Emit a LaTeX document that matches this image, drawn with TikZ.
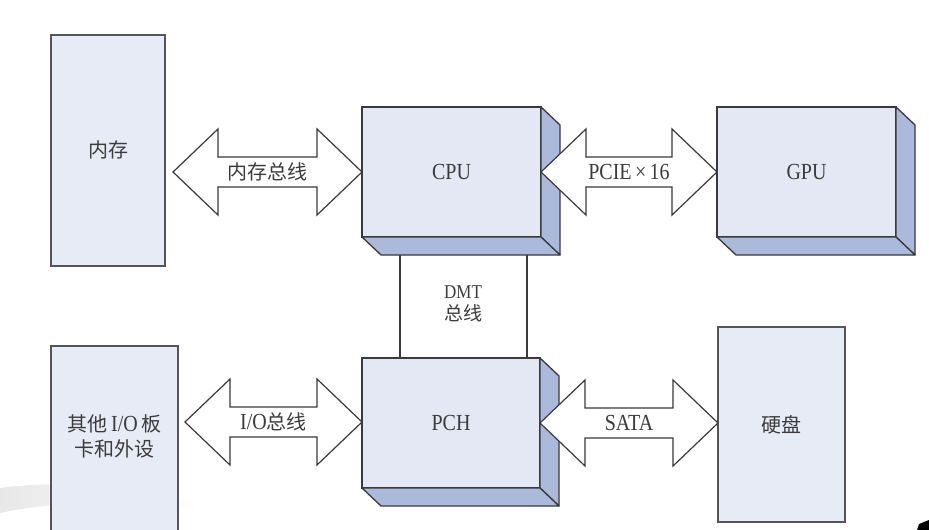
\documentclass[tikz,border=0pt]{standalone}
\usepackage{fontspec}
\setmainfont{Liberation Serif}
\newfontfamily\cjk{Noto Sans CJK SC}
\usetikzlibrary{calc}
\definecolor{frontc}{HTML}{E3E8F4}
\definecolor{sidec}{HTML}{ABBADB}
\definecolor{flatc}{HTML}{E7EBF6}
\definecolor{edgec}{HTML}{3A3A3A}
\definecolor{flatedge}{HTML}{555555}
\definecolor{txtc}{HTML}{3C3C3C}
\newcommand\lat[1]{\scalebox{1}[1.15]{#1}}
% double block arrow between two tip points, with a named label
\newcommand\dblarrow[4]{%
  \draw[busarrow] let \p1=#1, \p2=#2 in
    (\x1,\y1) -- (\x1+45pt,\y1+43pt) -- (\x1+45pt,\y1+15pt) -- (\x2-45pt,\y1+15pt)
    -- (\x2-45pt,\y1+43pt) -- (\x2,\y1) -- (\x2-45pt,\y1-43pt) -- (\x2-45pt,\y1-15pt)
    -- (\x1+45pt,\y1-15pt) -- (\x1+45pt,\y1-43pt) -- cycle;
  \path #1 -- #2 node[midway, lbl] (#3) {#4};}
% 3D extrusion of a box node
\newcommand\extrude[1]{%
  \filldraw[depthface] (#1.north east) -- ++(19,18) -- ($(#1.south east)+(19,18)$) -- (#1.south east) -- cycle;
  \filldraw[depthface] (#1.south west) -- (#1.south east) -- ($(#1.south east)+(19,18)$) -- ($(#1.south west)+(19,18)$) -- cycle;}
\begin{document}
\begin{tikzpicture}[x=1pt,y=-1pt,
  box3d/.style={draw=edgec, line width=1.3pt, fill=frontc, inner sep=0pt, outer sep=0pt,
    minimum width=179pt, minimum height=130pt, text=txtc, font=\fontsize{20}{24}\selectfont},
  depthface/.style={draw=edgec, line width=1.3pt, fill=sidec, line join=round},
  flatbox/.style={draw=flatedge, line width=1.2pt, fill=flatc, inner sep=0pt, outer sep=0pt,
    text=txtc, font=\fontsize{20}{25}\selectfont},
  busarrow/.style={draw=edgec, line width=1.2pt, fill=white, line join=miter},
  lbl/.style={inner sep=0pt, text=txtc, font=\fontsize{20}{24}\selectfont},
  txt/.style={inner sep=0pt, text=txtc, align=center, font=\fontsize{20}{25}\selectfont},
  busline/.style={draw=edgec, line width=1.2pt}
]
\useasboundingbox (0,0) rectangle (929,530);
\clip (0,0) rectangle (929,530);
\fill[white] (0,0) rectangle (929,530);
% faint background swoosh
\shade[left color=black!9, right color=white] (0,488) .. controls (60,480) and (130,486) .. (200,502)
  -- (200,510) .. controls (130,500) and (60,500) .. (0,513) -- cycle;
\fill[black] (919,524) -- (929,520) -- (929,530) -- (917,530) -- cycle;

% flat boxes
\node[flatbox, minimum width=114pt, minimum height=231pt] (mem) at (108,150.5) {\raisebox{3pt}{\cjk 内存}};
\node[flatbox, minimum width=127pt, minimum height=200pt] (io) at (114.5,446) {};
\node[txt] (iotext) at (114.5,436.5) {{\cjk 其他}\lat{\,I/O\,}{\cjk 板}\\{\cjk 卡和外设}};
\node[flatbox, minimum width=127pt, minimum height=195pt] (disk) at (781.5,424.5) {{\cjk 硬盘}};

% 3D boxes
\node[box3d] (cpu) at (451.5,172) {\lat{CPU}};
\extrude{cpu}
\node[box3d] (gpu) at (806.5,172) {\lat{GPU}};
\extrude{gpu}
\node[box3d, minimum width=178pt] (pch) at (451,423) {\lat{PCH}};
\extrude{pch}

% DMT bus
\coordinate (dmtl) at ($(cpu.south west)+(38,18)$);
\coordinate (dmtr) at ($(cpu.south west)+(165,18)$);
\draw[busline] (dmtl) -- (dmtl |- pch.north);
\draw[busline] (dmtr) -- (dmtr |- pch.north);
\node[txt, font=\fontsize{19}{22}\selectfont] (dmt) at (463,304) {\lat{\fontsize{17}{18}\selectfont DMT}\\{\cjk 总线}};

% block arrows
\dblarrow{($(cpu.west -| mem.east)+(8,0)$)}{(cpu.west)}{membus}{{\cjk 内存总线}}
\dblarrow{(cpu.east)}{(gpu.west)}{pcie}{\lat{PCIE\,×\,16}}
\dblarrow{($(pch.west -| io.east)+(7,-1)$)}{($(pch.west)+(0,-1)$)}{iobus}{\lat{I/O}{\cjk 总线}}
\dblarrow{(pch.east)}{(pch.east -| disk.west)}{sata}{\lat{SATA}}
\end{tikzpicture}
\end{document}
